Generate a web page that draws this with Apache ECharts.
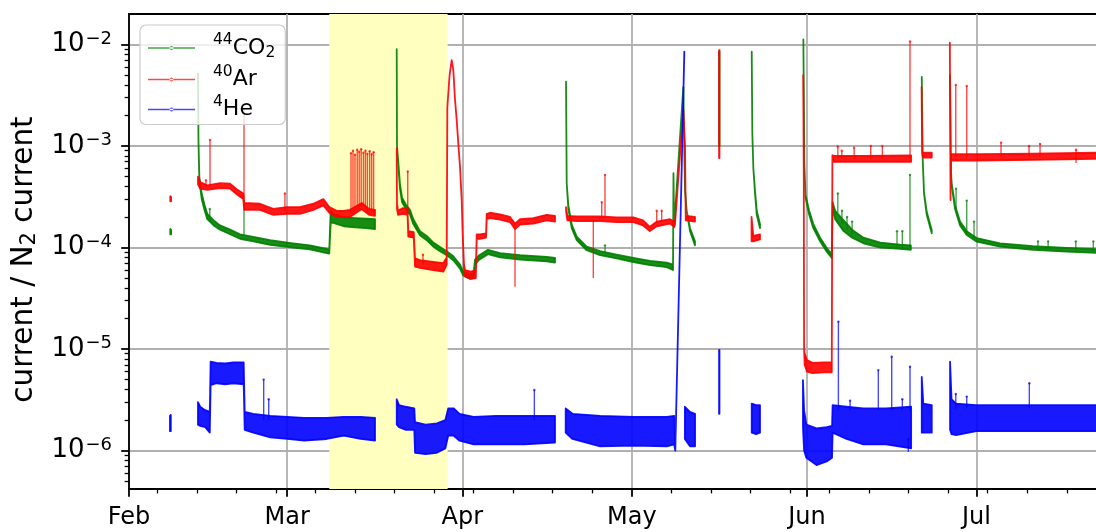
<!DOCTYPE html>
<html><head><meta charset="utf-8">
<script src="https://cdn.jsdelivr.net/npm/echarts@6/dist/echarts.min.js"></script>
<style>html,body{margin:0;padding:0;background:#fff}#c{width:1096px;height:532px}</style>
</head><body><div id="c"></div>
<script>
// ---- x positions are days counted from 1 Feb ----
const xMaxDay = 172.5;
const monthTickDays = [0, 28, 59, 89, 120, 150];
const monthLabels = ['Feb', 'Mar', 'Apr', 'May', 'Jun', 'Jul'];
const weekTickDays = [5,12,19,26,33,40,47,54,61,68,75,82,96,103,110,117,124,131,138,145,152,159,166];
const yMin = 4.18e-7, yMax = 1.997e-2;
const yMajorTicks = [1e-6, 1e-5, 1e-4, 1e-3, 1e-2];
const yMinorTicks = [5e-7,6e-7,7e-7,8e-7,9e-7,2e-6,3e-6,4e-6,5e-6,6e-6,7e-6,8e-6,9e-6,
  2e-5,3e-5,4e-5,5e-5,6e-5,7e-5,8e-5,9e-5,2e-4,3e-4,4e-4,5e-4,6e-4,7e-4,8e-4,9e-4,
  2e-3,3e-3,4e-3,5e-3,6e-3,7e-3,8e-3,9e-3];
const shadedDays = [35.45, 56.4];

// ---- 44CO2 : segments of [day, low, high] and spikes [day, from, to] ----
const co2Bands = [
  [[7.3,1.35e-4,1.52e-4],[7.45,1.35e-4,1.5e-4]],
  [[12.21,5.2e-3,5.2e-3],[12.3,1.1e-3,1.1e-3],[12.45,4.6e-4,5.0e-4],[12.87,3.0e-4,3.4e-4],[13.4,2.3e-4,2.6e-4],
   [13.86,1.9e-4,2.15e-4],[15.0,1.65e-4,1.85e-4],[16.11,1.5e-4,1.65e-4],[17.9,1.35e-4,1.5e-4],[19.65,1.22e-4,1.35e-4],
   [22.0,1.15e-4,1.27e-4],[24.96,1.06e-4,1.18e-4],[29.03,1.0e-4,1.1e-4],[32.0,0.96e-4,1.05e-4],[35.0,0.88e-4,0.97e-4],
   [35.45,0.87e-4,0.95e-4],[35.7,1.75e-4,2.3e-4],[36.17,1.75e-4,2.15e-4],[38.0,1.62e-4,1.98e-4],[40.0,1.58e-4,1.95e-4],
   [42.0,1.55e-4,1.92e-4],[43.55,1.52e-4,1.9e-4]],
  [[47.39,9.0e-3,9.0e-3],[47.44,1.0e-3,1.0e-3],[47.62,7.0e-4,7.5e-4],[47.97,3.8e-4,4.2e-4],[48.33,2.8e-4,3.1e-4],
   [49.0,2.4e-4,2.65e-4],[49.74,2.1e-4,2.35e-4],[50.33,1.7e-4,1.9e-4],[51.51,1.32e-4,1.45e-4],[52.7,1.18e-4,1.3e-4],
   [53.87,1.02e-4,1.12e-4],[55.05,0.92e-4,1.01e-4],[56.24,0.84e-4,0.92e-4],[57.41,0.75e-4,0.82e-4],[58.59,0.62e-4,0.68e-4],
   [59.17,0.53e-4,0.58e-4],[60.37,0.49e-4,0.54e-4],[61.0,0.5e-4,0.56e-4],[61.25,0.68e-4,0.76e-4],[62.0,0.76e-4,0.84e-4],
   [63.55,0.86e-4,0.95e-4],[65.68,0.8e-4,0.88e-4],[69.22,0.76e-4,0.84e-4],[73.94,0.73e-4,0.81e-4],[75.41,0.71e-4,0.79e-4]],
  [[77.36,4.3e-3,4.3e-3],[77.48,4.3e-4,4.3e-4],[77.77,2.4e-4,2.6e-4],[78.37,1.55e-4,1.68e-4],[79.25,1.18e-4,1.28e-4],
   [81.02,0.94e-4,1.02e-4],[83.38,0.84e-4,0.92e-4],[86.33,0.78e-4,0.85e-4],[89.27,0.72e-4,0.79e-4],[92.23,0.67e-4,0.74e-4],
   [95.18,0.64e-4,0.71e-4],[96.3,0.6e-4,0.68e-4],[96.38,5.4e-4,5.4e-4],[96.5,1.6e-4,1.6e-4],[98.12,3.8e-3,3.8e-3],
   [98.42,3.7e-4,3.7e-4],[98.72,2.3e-4,2.3e-4],[99.31,1.45e-4,1.55e-4],[100.19,1.05e-4,1.15e-4]],
  [[104.45,1.0e-3,8.5e-3],[104.52,1.0e-3,8.5e-3]],
  [[110.23,8.5e-3,8.5e-3],[110.34,1.33e-3,1.33e-3],[110.52,6.0e-4,6.0e-4],[110.82,3.4e-4,3.6e-4],[111.12,2.1e-4,2.3e-4],[111.7,1.55e-4,1.7e-4]],
  [[119.37,1.12e-2,1.12e-2],[119.55,6.7e-4,6.7e-4],[119.75,3.1e-4,3.3e-4],[120.4,2.1e-4,2.3e-4],[121.14,1.55e-4,1.7e-4],
   [122.33,1.15e-4,1.25e-4],[123.51,0.91e-4,0.99e-4],[124.4,0.79e-4,0.86e-4],[124.55,2.5e-4,2.8e-4],[125.0,1.9e-4,2.3e-4],
   [126.5,1.45e-4,1.85e-4],[128.0,1.25e-4,1.5e-4],[130.0,1.1e-4,1.25e-4],[133.0,1.0e-4,1.12e-4],[136.48,0.97e-4,1.07e-4],[138.4,0.95e-4,1.05e-4]],
  [[140.33,4.8e-3,4.8e-3],[140.5,7.3e-4,7.3e-4],[140.73,3.4e-4,3.5e-4],[141.21,2.1e-4,2.25e-4],[142.1,1.38e-4,1.48e-4]],
  [[145.34,5.0e-3,5.0e-3],[145.51,5.5e-4,5.5e-4],[145.64,4.0e-4,4.2e-4],[146.22,2.4e-4,2.6e-4],[147.11,1.65e-4,1.8e-4],
   [148.29,1.33e-4,1.45e-4],[150.06,1.14e-4,1.24e-4],[154.19,1.02e-4,1.1e-4],[160.03,0.95e-4,1.03e-4],[165.99,0.91e-4,0.99e-4],
   [172.5,0.88e-4,0.96e-4]]
];
const co2Spikes = [
  [14.3,1.8e-4,2.4e-4],[20.36,1.3e-4,2.9e-4],[84.26,0.88e-4,1.05e-4],[125.47,2.2e-4,3.4e-4],
  [126.2,1.7e-4,2.3e-4],[127.1,1.5e-4,2.0e-4],[128.0,1.35e-4,1.8e-4],
  [135.95,1.0e-4,1.45e-4],[136.89,1.0e-4,1.45e-4],[138.25,1.0e-4,5.2e-4],
  [146.4,2.4e-4,3.8e-4],[148.29,1.38e-4,2.9e-4],[149.58,1.2e-4,1.8e-4],[160.9,0.98e-4,1.15e-4],
  [162.7,0.97e-4,1.15e-4],[167.6,0.93e-4,1.15e-4],[170.7,0.92e-4,1.15e-4]
];

// ---- 40Ar ----
const arBands = [
  [[7.3,2.85e-4,3.2e-4],[7.45,2.85e-4,3.15e-4]],
  [[12.21,4.2e-4,5.0e-4],[12.6,3.8e-4,4.4e-4],[13.86,3.7e-4,4.1e-4],[16.11,3.85e-4,4.3e-4],[17.88,3.8e-4,4.25e-4],
   [19.07,3.35e-4,3.75e-4],[20.23,3.0e-4,3.4e-4],[20.4,2.35e-4,2.75e-4],[23.19,2.35e-4,2.7e-4],[25.54,2.1e-4,2.4e-4],
   [27.92,2.15e-4,2.5e-4],[30.27,2.15e-4,2.5e-4],[32.63,2.35e-4,2.7e-4],[34.4,2.6e-4,3.0e-4],[35.46,2.2e-4,2.5e-4],
   [36.77,2.0e-4,2.3e-4],[37.94,2.0e-4,2.3e-4],[39.12,2.0e-4,2.35e-4],[41.19,2.4e-4,2.75e-4],[42.5,2.1e-4,2.4e-4],[43.55,2.05e-4,2.35e-4]],
  [[47.39,9.5e-4,9.5e-4],[47.44,2.4e-4,2.7e-4],[47.62,2.1e-4,2.3e-4],[48.5,2.15e-4,2.45e-4],[49.3,2.1e-4,2.4e-4],
   [49.44,1.28e-4,1.45e-4],[50.4,1.25e-4,1.42e-4],[50.63,6.5e-5,7.8e-5],[51.51,6.3e-5,7.5e-5],[53.87,6.0e-5,7.2e-5],
   [55.64,5.8e-5,7.0e-5],[56.24,6.8e-5,8.0e-5],[56.35,2.4e-3,2.4e-3],[56.75,5.0e-3,5.0e-3],[57.12,7.0e-3,7.0e-3],
   [57.41,5.6e-3,5.6e-3],[57.71,2.85e-3,2.85e-3],[58.01,1.8e-3,1.8e-3],[58.29,1.06e-3,1.06e-3],[58.59,6.3e-4,6.3e-4],
   [58.89,2.94e-4,2.94e-4],[59.06,1.38e-4,1.38e-4],[59.3,6.2e-5,6.8e-5],[59.48,5.2e-5,6.0e-5],[60.5,4.9e-5,5.8e-5],
   [61.4,5.0e-5,6.0e-5],[61.55,1.22e-4,1.35e-4],[62.14,1.22e-4,1.35e-4],[63.2,1.25e-4,1.38e-4],[63.32,1.9e-4,2.15e-4],
   [63.91,1.95e-4,2.2e-4],[65.68,1.88e-4,2.12e-4],[67.45,1.78e-4,2.0e-4],[68.33,1.52e-4,1.72e-4],[69.22,1.68e-4,1.9e-4],
   [71.57,1.72e-4,1.95e-4],[73.94,1.85e-4,2.1e-4],[75.41,1.8e-4,2.05e-4]],
  [[77.36,2.3e-4,2.5e-4],[77.6,1.85e-4,2.05e-4],[79.25,1.82e-4,2.02e-4],[83.38,1.82e-4,2.02e-4],[86.33,1.78e-4,1.98e-4],
   [89.27,1.78e-4,1.98e-4],[91.0,1.65e-4,1.85e-4],[92.2,1.45e-4,1.6e-4],[93.4,1.62e-4,1.8e-4],[95.77,1.72e-4,1.9e-4],
   [96.53,1.6e-4,1.8e-4],[96.65,1.7e-4,1.7e-4],[98.12,2.3e-3,2.3e-3],[98.42,1.0e-3,1.0e-3],[98.55,1.85e-4,2.05e-4],[100.19,1.8e-4,2.0e-4]],
  [[104.45,7.6e-4,8.8e-3],[104.52,7.6e-4,8.8e-3]],
  [[110.2,1.15e-4,2.0e-4],[110.5,1.15e-4,1.3e-4],[111.7,1.2e-4,1.35e-4]],
  [[119.35,5.0e-3,5.0e-3],[119.45,4.4e-4,4.4e-4],[119.5,1.0e-5,1.0e-5],[119.6,7.0e-6,9.0e-6],[120.0,6.0e-6,7.8e-6],
   [121.0,5.8e-6,7.3e-6],[123.0,5.9e-6,7.4e-6],[124.4,5.9e-6,7.4e-6],[124.51,8.1e-4,8.1e-4],[124.69,7.0e-4,8.0e-4],
   [130.0,7.0e-4,8.0e-4],[138.45,7.0e-4,8.1e-4]],
  [[140.3,3.8e-3,3.8e-3],[140.4,8.5e-4,8.5e-4],[140.55,7.7e-4,8.6e-4],[142.1,7.7e-4,8.6e-4]],
  [[145.3,1.04e-2,1.04e-2],[145.42,2.94e-4,2.94e-4],[145.5,7.2e-4,8.3e-4],[150.0,7.2e-4,8.3e-4],[160.0,7.3e-4,8.4e-4],[172.5,7.5e-4,8.6e-4]]
];
const arSpikes = [
  [13.63,3.9e-4,4.6e-4],[14.34,4.0e-4,1.15e-3],[20.36,3.0e-4,2.3e-3],[27.6,2.3e-4,3.4e-4],
  [39.3,2.2e-4,8.5e-4],[39.65,2.2e-4,9.0e-4],[40.0,2.2e-4,8.2e-4],[40.4,2.3e-4,9.2e-4],[40.75,2.4e-4,8.8e-4],
  [41.1,2.5e-4,9.3e-4],[41.5,2.5e-4,8.6e-4],[41.85,2.4e-4,9.0e-4],[42.2,2.2e-4,8.4e-4],[42.6,2.2e-4,8.9e-4],
  [42.95,2.2e-4,8.3e-4],[43.3,2.2e-4,8.7e-4],
  [49.34,2.2e-4,5.6e-4],[52.04,6.8e-5,8.5e-5],[68.33,4.1e-5,1.7e-4],
  [82.19,5.0e-5,1.85e-4],[83.68,2.0e-4,2.8e-4],[84.26,2.0e-4,5.2e-4],[93.41,1.8e-4,2.3e-4],[94.29,1.8e-4,2.3e-4],
  [125.47,7.5e-4,9.9e-4],[126.17,7.5e-4,9.0e-4],[128.35,7.5e-4,9.6e-4],[131.3,7.5e-4,1.0e-3],[133.35,7.5e-4,1.0e-3],
  [138.25,7.5e-4,1.07e-2],
  [146.35,7.8e-4,4.0e-3],[148.29,7.8e-4,3.9e-3],[154.36,7.8e-4,1.08e-3],[159.32,7.8e-4,1.0e-3],[161.27,7.8e-4,1.05e-3],[167.64,6.8e-4,9.2e-4]
];

// ---- 4He ----
const heBands = [
  [[7.25,1.55e-6,2.2e-6],[7.4,1.55e-6,2.25e-6]],
  [[12.21,1.8e-6,3.0e-6],[12.6,1.75e-6,2.7e-6],[13.5,1.7e-6,2.5e-6],[14.3,1.5e-6,2.4e-6],[14.45,4.4e-6,7.5e-6],
   [15.5,4.6e-6,7.3e-6],[17.0,4.5e-6,7.2e-6],[18.5,4.6e-6,7.4e-6],[20.3,4.5e-6,7.4e-6],[20.48,1.6e-6,2.4e-6],
   [22.0,1.5e-6,2.3e-6],[25.0,1.35e-6,2.2e-6],[28.0,1.3e-6,2.15e-6],[31.0,1.25e-6,2.1e-6],[35.0,1.3e-6,2.1e-6],
   [38.0,1.4e-6,2.15e-6],[41.0,1.3e-6,2.15e-6],[43.55,1.25e-6,2.1e-6]],
  [[47.39,1.8e-6,3.2e-6],[47.8,1.7e-6,2.8e-6],[49.0,1.6e-6,2.7e-6],[50.5,1.6e-6,2.6e-6],[50.63,0.95e-6,1.9e-6],
   [52.5,0.92e-6,1.8e-6],[54.5,0.95e-6,1.85e-6],[56.0,1.05e-6,2.0e-6],[56.5,1.4e-6,2.6e-6],[57.5,1.4e-6,2.6e-6],
   [58.5,1.25e-6,2.3e-6],[61.0,1.15e-6,2.15e-6],[65.0,1.15e-6,2.2e-6],[70.0,1.15e-6,2.2e-6],[75.41,1.2e-6,2.2e-6]],
  [[77.3,1.5e-6,2.6e-6],[78.5,1.3e-6,2.3e-6],[83.4,1.1e-6,2.2e-6],[89.3,1.12e-6,2.15e-6],[95.2,1.1e-6,2.15e-6],
   [96.5,1.15e-6,2.2e-6],[96.7,1.0e-6,1.0e-6],[98.3,8.5e-3,8.5e-3]],
  [[98.4,1.3e-6,2.7e-6],[99.3,1.1e-6,2.4e-6],[100.2,1.1e-6,2.3e-6]],
  [[104.45,2.3e-6,9.8e-6],[104.52,2.3e-6,9.8e-6]],
  [[110.23,1.5e-6,2.9e-6],[111.0,1.45e-6,2.8e-6],[111.7,1.5e-6,2.8e-6]],
  [[119.3,1.7e-6,4.95e-6],[119.5,1.0e-6,2.5e-6],[119.9,0.85e-6,1.8e-6],[121.7,0.72e-6,1.65e-6],[123.5,0.78e-6,1.7e-6],
   [124.45,0.85e-6,1.75e-6],[124.55,1.5e-6,2.8e-6],[127.0,1.3e-6,2.7e-6],[130.0,1.15e-6,2.6e-6],[134.0,1.15e-6,2.6e-6],[138.45,1.05e-6,2.7e-6]],
  [[140.33,1.5e-6,5.3e-6],[140.6,1.5e-6,2.9e-6],[142.1,1.5e-6,2.8e-6]],
  [[145.34,1.6e-6,7.5e-6],[145.6,1.45e-6,3.2e-6],[146.4,1.42e-6,2.9e-6],[150.0,1.55e-6,2.8e-6],[160.0,1.55e-6,2.8e-6],[172.5,1.55e-6,2.8e-6]]
];
const heSpikes = [
  [23.84,2.0e-6,5.0e-6],[24.73,2.0e-6,3.2e-6],[71.75,2.0e-6,3.95e-6],
  [125.57,2.5e-6,1.86e-5],[127.64,2.5e-6,3.1e-6],[132.64,2.5e-6,6.2e-6],[135.01,2.5e-6,8.4e-6],
  [136.89,2.5e-6,3.2e-6],[138.25,2.5e-6,6.7e-6],[137.95,0.97e-6,1.3e-6],
  [146.35,2.6e-6,3.6e-6],[148.29,2.6e-6,3.4e-6],[159.37,2.6e-6,4.6e-6]
];

// ---- build ----
const FONT = 'DejaVu Sans';

function makeSeries(name, color, lineColor, bands, spikes) {
  const data = [];
  bands.forEach((b, i) => data.push([b[0][0], b[0][1], i, 0]));
  spikes.forEach((s, i) => data.push([s[0], s[1], i, 1]));
  return {
    type: 'custom', name: name, clip: true,
    coordinateSystem: 'cartesian2d',
    itemStyle: { color: lineColor },
    dimensions: ['t', 'v', 'i', 'k'],
    encode: { x: 0, y: 1 },
    data: data,
    renderItem: function (params, api) {
      const i = api.value(2), k = api.value(3);
      if (k === 0) {
        const seg = bands[i];
        const lo = seg.map(p => api.coord([p[0], p[1]]));
        const hi = seg.map(p => api.coord([p[0], p[2]])).reverse();
        return { type: 'polygon', shape: { points: lo.concat(hi) },
          style: { fill: color, stroke: color, lineWidth: 1.8, lineJoin: 'round', opacity: 0.9 } };
      }
      const s = spikes[i];
      const a = api.coord([s[0], s[1]]), b = api.coord([s[0], s[2]]);
      return { type: 'group', children: [
        { type: 'line', shape: { x1: a[0], y1: a[1], x2: b[0], y2: b[1] }, style: { stroke: lineColor, lineWidth: 1.4 } },
        { type: 'circle', shape: { cx: b[0], cy: b[1], r: 1.2 }, style: { fill: lineColor } }
      ] };
    }
  };
}

const legendNames = { 'CO2': '{sp|44}{t|CO}{sb|2}', 'Ar': '{sp|40}{t|Ar}', 'He': '{sp|4}{t|He}' };
const legendIcon = 'path://M0,0L0.01,0Z M0,10L0.01,10Z M0,4.3H47V5.7H0Z M21.5,5a2,2 0 1 0 4,0a2,2 0 1 0 -4,0Z';

const option = {
  animation: false,
  backgroundColor: '#ffffff',
  textStyle: { fontFamily: FONT },
  grid: { left: 129, top: 14, right: -7.5, bottom: 43, show: true, borderColor: '#000', borderWidth: 1.8,
          backgroundColor: 'transparent', outerBoundsMode: 'none', containLabel: false },
  legend: {
    left: 140, top: 25, orient: 'vertical', itemWidth: 47, itemHeight: 10, itemGap: 3,
    padding: [7, 10, 4, 8], backgroundColor: 'rgba(255,255,255,0.8)', borderColor: '#cccccc',
    borderWidth: 1.2, borderRadius: 6,
    data: [{ name: 'CO2', icon: legendIcon }, { name: 'Ar', icon: legendIcon }, { name: 'He', icon: legendIcon }],
    formatter: n => legendNames[n],
    textStyle: { fontFamily: FONT, color: '#000', fontSize: 22,
      rich: {
        sp: { fontFamily: FONT, fontSize: 15.5, padding: [0, 0, 16, 13] },
        t: { fontFamily: FONT, fontSize: 22 },
        sb: { fontFamily: FONT, fontSize: 15.5, padding: [9, 0, 0, 0] }
      } }
  },
  xAxis: [{
    type: 'value', min: 0, max: xMaxDay, position: 'bottom',
    axisLine: { show: true, onZero: false, lineStyle: { color: '#000', width: 1.8 } },
    axisTick: { show: true, length: 7.8, lineStyle: { color: '#000', width: 1.8 }, customValues: monthTickDays },
    axisLabel: { show: true, customValues: monthTickDays, margin: 17, fontSize: 24, fontFamily: FONT, color: '#000',
      formatter: v => monthLabels[monthTickDays.indexOf(Math.round(v))] },
    splitLine: { show: true, lineStyle: { color: '#b0b0b0', width: 1.8 } }
  }, {
    type: 'value', min: 0, max: xMaxDay, position: 'bottom',
    axisLine: { show: false, onZero: false },
    axisTick: { show: true, length: 4.4, lineStyle: { color: '#000', width: 1.3 }, customValues: weekTickDays },
    axisLabel: { show: false },
    splitLine: { show: false }
  }],
  yAxis: [{
    type: 'log', logBase: 10, min: yMin, max: yMax, position: 'left',
    name: '{a|current / N}{s|2}{a| current}', nameLocation: 'middle', nameGap: 85, nameRotate: 90,
    nameTextStyle: { fontFamily: FONT, color: '#000', fontSize: 29.5, padding: [0, 16, 0, 0],
      rich: { a: { fontFamily: FONT, fontSize: 29.5 }, s: { fontFamily: FONT, fontSize: 21, padding: [11, 0, 0, 0] } } },
    axisLine: { show: true, onZero: false, lineStyle: { color: '#000', width: 1.8 } },
    axisTick: { show: true, length: 7.8, lineStyle: { color: '#000', width: 1.8 }, customValues: yMajorTicks },
    axisLabel: { show: true, customValues: yMajorTicks, margin: 17, color: '#000',
      formatter: v => '{b|10}{e|\u2212' + Math.round(-Math.log10(v)) + '}',
      rich: { b: { fontFamily: FONT, fontSize: 26 }, e: { fontFamily: FONT, fontSize: 18, padding: [0, 0, 11, 1] } } },
    splitLine: { show: true, lineStyle: { color: '#b0b0b0', width: 1.8 } }
  }, {
    type: 'log', logBase: 10, min: yMin, max: yMax, position: 'left',
    axisLine: { show: false, onZero: false },
    axisTick: { show: true, length: 4.4, lineStyle: { color: '#000', width: 1.3 }, customValues: yMinorTicks },
    axisLabel: { show: false },
    splitLine: { show: false }
  }],
  series: [
    { type: 'line', name: 'span', data: [], z: 1, silent: true,
      markArea: { silent: true, itemStyle: { color: '#ffffbf' },
        data: [[{ xAxis: shadedDays[0] }, { xAxis: shadedDays[1] }]] } },
    makeSeries('CO2', '#008000', 'rgba(0,128,0,0.72)', co2Bands, co2Spikes),
    makeSeries('Ar', '#ff0000', 'rgba(255,0,0,0.72)', arBands, arSpikes),
    makeSeries('He', '#0000ff', 'rgba(0,0,255,0.72)', heBands, heSpikes)
  ]
};
const chart = echarts.init(document.getElementById('c'), null, { renderer: 'canvas' });
chart.setOption(option);
</script></body></html>
